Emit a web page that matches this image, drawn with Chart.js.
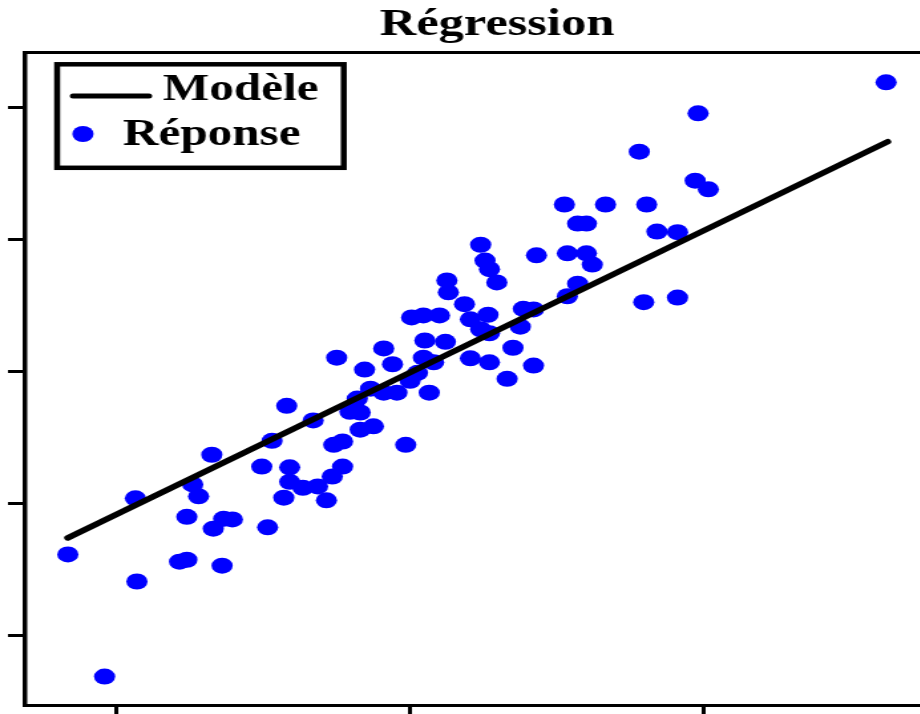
<!DOCTYPE html>
<html><head><meta charset="utf-8">
<script src="https://cdn.jsdelivr.net/npm/chart.js@4.4.1/dist/chart.umd.min.js"></script>
<style>
html,body{margin:0;padding:0;background:#fff;overflow:hidden;width:920px;height:714px;}
</style></head><body>
<canvas id="c" width="742" height="714" style="display:block;width:986px;height:714px;"></canvas>
<script>
const titleText = 'Régression';
const seriesNames = ['Modèle', 'Réponse'];

// regression line (two end points)
const xModel = [-2.33, 3.25];
const yModel = [-2.52, 3.48];

// observed responses
const xResponse = [3.24,1.96,1.56,1.94,2.03,1.05,1.33,1.61,1.14,1.20,1.68,1.82,0.48,0.86,1.07,1.20,1.24,0.51,0.54,0.59,1.14,1.07,1.59,1.82,0.25,0.26,0.37,0.01,0.09,0.20,0.41,0.53,0.77,0.84,0.48,0.54,0.75,0.10,0.24,-0.18,0.70,-0.50,0.09,0.16,0.41,0.54,0.84,-0.12,-0.31,0.05,0.00,0.66,-0.27,-0.18,-0.09,0.13,-0.84,-0.36,-0.41,-0.34,-0.66,-0.34,-0.25,-0.94,-0.52,-0.46,-0.03,-1.35,-1.01,-0.82,-0.46,-0.53,-0.82,-0.73,-0.63,-1.48,-1.44,-1.87,-0.86,-0.57,-1.52,-1.27,-1.21,-1.34,-0.97,-2.33,-1.57,-1.52,-1.28,-1.86,-2.08];
const yResponse = [4.38,3.91,3.33,2.89,2.76,2.53,2.53,2.53,2.24,2.24,2.12,2.11,1.92,1.76,1.79,1.79,1.62,1.68,1.55,1.35,1.33,1.14,1.05,1.12,1.38,1.20,1.02,0.82,0.85,0.85,0.79,0.86,0.95,0.94,0.64,0.58,0.68,0.47,0.45,0.35,0.36,0.21,0.21,0.14,0.20,0.14,0.09,0.11,0.03,-0.02,-0.14,-0.11,-0.26,-0.32,-0.32,-0.32,-0.52,-0.41,-0.61,-0.62,-0.74,-0.88,-0.83,-1.05,-1.11,-1.06,-1.11,-1.26,-1.44,-1.45,-1.44,-1.59,-1.67,-1.76,-1.74,-1.71,-1.89,-1.92,-1.91,-1.95,-2.20,-2.23,-2.24,-2.38,-2.36,-2.77,-2.88,-2.85,-2.94,-3.18,-4.62];

// tick positions (labels are not shown in the original)
const xTicks = [-2, 0, 2];
const yTicks = [-4, -2, 0, 2, 4];

const xRange = [-2.62, 3.92];
const yRange = [-5.05, 4.83];

const FONT = '"Liberation Serif", "Times New Roman", serif';

const legendBox = {
  id: 'legendBox',
  afterDatasetsDraw(chart) {
    const ctx = chart.ctx;
    const ds = chart.data.datasets;
    ctx.save();
    ctx.fillStyle = '#fff';
    ctx.fillRect(43, 64.3, 215.7, 103.5);
    ctx.lineWidth = 4.5;
    ctx.strokeStyle = '#000';
    ctx.strokeRect(43, 64.3, 215.7, 103.5);
    ctx.beginPath();
    ctx.lineCap = 'round';
    ctx.lineWidth = 5;
    ctx.strokeStyle = ds[0].borderColor;
    ctx.moveTo(55, 96); ctx.lineTo(112, 96);
    ctx.stroke();
    ctx.font = 'bold 37px ' + FONT;
    ctx.fillStyle = '#000';
    ctx.textAlign = 'left';
    ctx.textBaseline = 'alphabetic';
    ctx.fillText(ds[0].label, 122.6, 100);
    ctx.beginPath();
    ctx.arc(62.4, 134, 8, 0, Math.PI * 2);
    ctx.fillStyle = ds[1].backgroundColor;
    ctx.fill();
    ctx.fillStyle = '#000';
    ctx.fillText(ds[1].label, 92.5, 145);
    ctx.restore();
  }
};

new Chart(document.getElementById('c'), {
  type: 'scatter',
  data: {
    datasets: [
      {
        type: 'line',
        label: seriesNames[0],
        data: xModel.map((x, i) => ({x, y: yModel[i]})),
        borderColor: '#000',
        backgroundColor: '#000',
        borderWidth: 5.5,
        borderCapStyle: 'round',
        pointRadius: 0,
        fill: false,
        showLine: true
      },
      {
        label: seriesNames[1],
        data: xResponse.map((x, i) => ({x, y: yResponse[i]})),
        backgroundColor: '#0000ff',
        borderWidth: 0,
        pointRadius: 8,
        pointHoverRadius: 8
      }
    ]
  },
  options: {
    responsive: false,
    devicePixelRatio: 1,
    animation: false,
    events: [],
    layout: { autoPadding: false, padding: { left: 6, right: 0, top: 0, bottom: 0 } },
    plugins: {
      legend: { display: false },
      tooltip: { enabled: false },
      title: {
        display: true,
        text: titleText,
        color: '#000',
        font: { family: FONT, size: 38, weight: 'bold' },
        padding: { top: 2, bottom: 5 }
      }
    },
    scales: {
      x: {
        type: 'linear',
        position: 'bottom',
        min: xRange[0], max: xRange[1],
        afterBuildTicks: (axis) => { axis.ticks = xTicks.map(v => ({value: v})); },
        ticks: { display: false },
        grid: { drawOnChartArea: false, drawTicks: true, tickLength: 9, color: '#000', lineWidth: 3 },
        border: { display: true, color: '#000', width: 3 }
      },
      x2: {
        type: 'linear',
        axis: 'x',
        position: 'top',
        min: xRange[0], max: xRange[1],
        ticks: { display: false },
        grid: { display: false, drawTicks: false },
        border: { display: true, color: '#000', width: 3 }
      },
      y: {
        type: 'linear',
        position: 'left',
        min: yRange[0], max: yRange[1],
        afterBuildTicks: (axis) => { axis.ticks = yTicks.map(v => ({value: v})); },
        ticks: { display: false },
        grid: { drawOnChartArea: false, drawTicks: true, tickLength: 13, color: '#000', lineWidth: 3 },
        border: { display: true, color: '#000', width: 3.5 }
      }
    }
  },
  plugins: [legendBox]
});
</script>
</body></html>
